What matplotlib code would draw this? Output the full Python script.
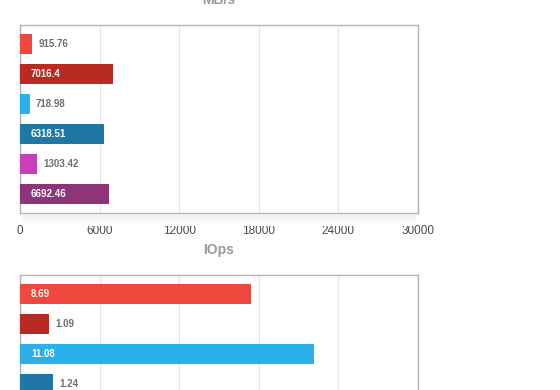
import matplotlib
matplotlib.use('Agg')
import matplotlib.pyplot as plt
import numpy as np

plt.rcParams['font.family'] = ['Liberation Sans', 'DejaVu Sans']

# data
mbs_values = [915.76, 7016.4, 718.98, 6318.51, 1303.42, 6692.46]
iops_values = [8.69, 1.09, 11.08, 1.24]
bar_colors = ['#f0483e', '#b82a22', '#29b0e8', '#1f77a4', '#c840b8', '#8e3579']
mbs_ticks = [0, 6000, 12000, 18000, 24000, 30000]
iops_ticks = [0, 3, 6, 9, 12, 15]

W, H = 560.0, 390.0


def draw_panel(ax, values, ticks, nslots=6, show_ticks=True):
    y = np.arange(len(values))
    ax.barh(y, values, height=0.67, color=bar_colors[:len(values)], zorder=3)
    ax.set_xlim(ticks[0], ticks[-1])
    ax.set_ylim(nslots - 1 + 0.633, -0.633)
    ax.set_xticks(ticks)
    ax.set_xticklabels([str(t) for t in ticks])
    ax.set_yticks([])
    ax.tick_params(axis='x', length=0, pad=9, labelsize=8.5, labelcolor='#4a4a4a',
                   labelbottom=show_ticks)
    ax.grid(axis='x', color='#e6e6e6', lw=0.9, zorder=0)
    for s in ax.spines.values():
        s.set_color('#b3b3b3')
        s.set_linewidth(1.0)
    span = ticks[-1] - ticks[0]
    for i, v in enumerate(values):
        if v / span > 0.15:
            ax.annotate(str(v), (0, i), xytext=(8, 0), textcoords='offset points',
                        va='center', ha='left', fontsize=7, color='white',
                        fontweight='bold', zorder=4)
        else:
            ax.annotate(str(v), (v, i), xytext=(4.5, 0), textcoords='offset points',
                        va='center', ha='left', fontsize=7, color='#6e6e6e',
                        fontweight='bold', zorder=4)


fig = plt.figure(figsize=(5.6, 3.9), dpi=100)

# top panel: axes box from x=20..418, y=25..213 px
ax1 = fig.add_axes([20 / W, 1 - 213 / H, 398 / W, 188 / H])
draw_panel(ax1, mbs_values, mbs_ticks)

# soft shadow under the top panel
shade = np.linspace(0.12, 0.0, 12).reshape(-1, 1) * np.ones((1, 50))
axs = fig.add_axes([22 / W, 1 - 226 / H, 394 / W, 12 / H], zorder=0)
axs.imshow(shade, cmap='Greys', vmin=0, vmax=1, aspect='auto')
axs.axis('off')

# bottom panel: same size, runs off the bottom of the figure
ax2 = fig.add_axes([20 / W, 1 - 463 / H, 398 / W, 188 / H])
draw_panel(ax2, iops_values, iops_ticks, show_ticks=False)

fig.text(219 / W, 1 - 0 / H, 'MB/s', ha='center', va='center', fontsize=10,
         fontweight='bold', color='#999999')
fig.text(219 / W, 1 - 250 / H, 'IOps', ha='center', va='center', fontsize=10,
         fontweight='bold', color='#999999')

plt.savefig('out.png', dpi=100)
